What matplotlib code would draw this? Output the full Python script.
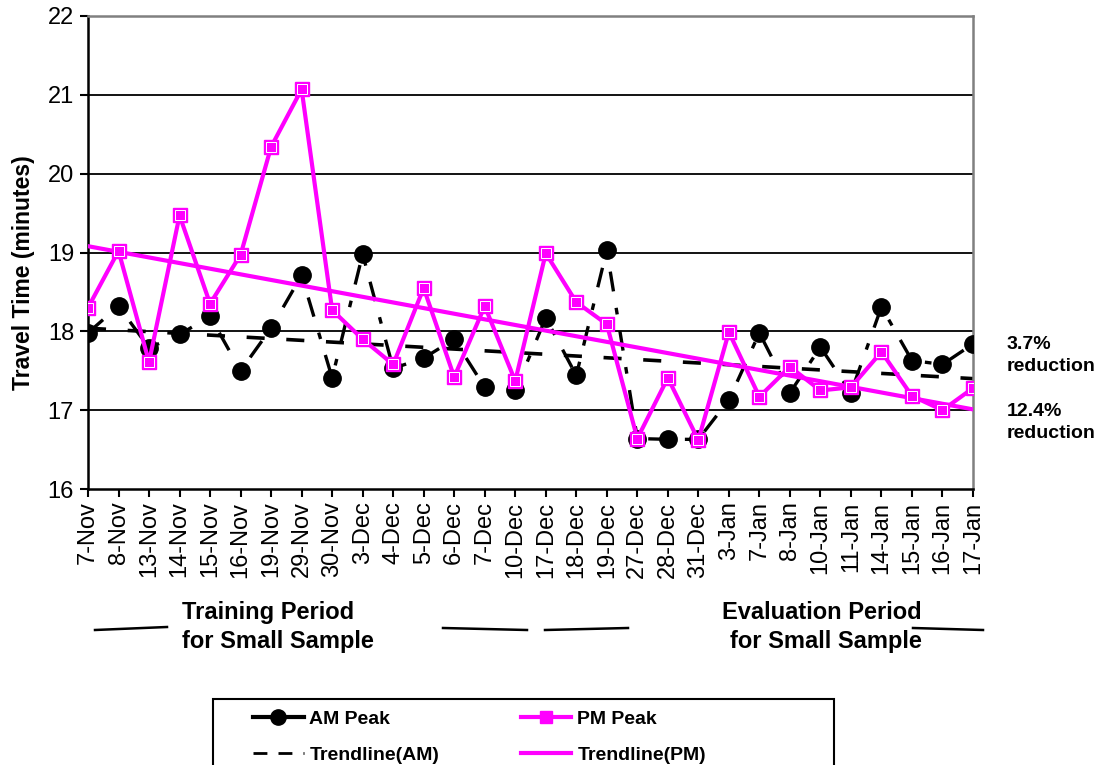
import numpy as np
import matplotlib
matplotlib.use("Agg")
import matplotlib.pyplot as plt
from matplotlib.lines import Line2D
from matplotlib.patches import Rectangle

plt.rcParams['font.family'] = ['Liberation Sans', 'DejaVu Sans']

# dates on the x axis
dates = ["7-Nov", "8-Nov", "13-Nov", "14-Nov", "15-Nov", "16-Nov", "19-Nov",
         "29-Nov", "30-Nov", "3-Dec", "4-Dec", "5-Dec", "6-Dec", "7-Dec",
         "10-Dec", "17-Dec", "18-Dec", "19-Dec", "27-Dec", "28-Dec", "31-Dec",
         "3-Jan", "7-Jan", "8-Jan", "10-Jan", "11-Jan", "14-Jan", "15-Jan",
         "16-Jan", "17-Jan"]

# travel times (minutes)
am_peak = [17.98, 18.32, 17.79, 17.96, 18.19, 17.50, 18.04, 18.71, 17.41, 18.98,
           17.53, 17.66, 17.90, 17.29, 17.25, 18.17, 17.44, 19.03, 16.64, 16.63,
           16.63, 17.13, 17.98, 17.22, 17.80, 17.22, 18.31, 17.63, 17.58, 17.84]
pm_peak = [18.30, 19.02, 17.61, 19.47, 18.35, 18.97, 20.34, 21.07, 18.27, 17.90,
           17.58, 18.55, 17.42, 18.32, 17.37, 18.99, 18.37, 18.09, 16.64, 17.41,
           16.62, 17.99, 17.17, 17.55, 17.25, 17.29, 17.74, 17.18, 17.00, 17.28]

# trendline end points (first date, last date)
am_trend = [18.04, 17.40]
pm_trend = [19.08, 17.01]

MAG = '#FF00FF'
W, H = 1102, 765

x = np.arange(len(dates))
x_ends = [x[0], x[-1]]

fig = plt.figure(figsize=(W / 100, H / 100), dpi=100)
ax = fig.add_axes([88 / W, 1 - 489 / H, (973 - 88) / W, (489 - 16) / H])

# gridlines
for v in [17, 18, 19, 20, 21]:
    ax.axhline(v, color='black', lw=1.3, zorder=1)

ax.plot(x_ends, am_trend, color='black', lw=2.6, ls=(0, (5, 6)), zorder=2)
ax.plot(x, am_peak, color='black', lw=2.4, ls=(0, (6, 5, 2, 5)), marker='o',
        ms=12.5, mfc='black', mec='black', zorder=3)
ax.plot(x_ends, pm_trend, color=MAG, lw=3, zorder=4)
ax.plot(x, pm_peak, color=MAG, lw=3, marker='s', ms=10, mfc=MAG, mec=MAG, zorder=5)
# white inner frame of the square markers
ax.plot(x, pm_peak, ls='none', marker='s', ms=7, mfc=MAG, mec='white', mew=0.7, zorder=6)

ax.set_xlim(0, len(dates) - 1)
ax.set_ylim(16, 22)
ax.set_yticks([16, 17, 18, 19, 20, 21, 22])
ax.set_xticks(x)
ax.set_xticklabels(dates, rotation=90, fontsize=17)
ax.tick_params(axis='y', labelsize=17, direction='out', length=6, width=1.5, pad=4)
ax.tick_params(axis='x', direction='out', length=6, width=1.5, pad=3)

ax.spines['left'].set_linewidth(1.8)
ax.spines['bottom'].set_linewidth(1.8)
ax.spines['top'].set_color('#808080')
ax.spines['top'].set_linewidth(1.8)
ax.spines['right'].set_color('#808080')
ax.spines['right'].set_linewidth(1.8)

ax.set_ylabel("Travel Time (minutes)", fontsize=16.5, fontweight='bold')
ax.yaxis.set_label_coords(-0.060, 0.457)

# reduction notes
fig.text(1007 / W, 1 - 336 / H, "3.7%\nreduction", fontsize=14, fontweight='bold',
         va='top', ha='left', linespacing=1.35)
fig.text(1007 / W, 1 - 403 / H, "12.4%\nreduction", fontsize=14, fontweight='bold',
         va='top', ha='left', linespacing=1.35)

# period labels
fig.text(182 / W, 1 - 627 / H, "Training Period\nfor Small Sample", fontsize=17,
         fontweight='bold', ha='left', va='center', multialignment='left', linespacing=1.35)
fig.text(922 / W, 1 - 627 / H, "Evaluation Period\nfor Small Sample", fontsize=17,
         fontweight='bold', ha='right', va='center', multialignment='right', linespacing=1.35)

# bracket strokes
for x0, x1, y0, y1 in [(95, 167, 630, 627), (443, 527, 628, 630),
                       (545, 628, 630, 628), (913, 983, 628, 630)]:
    fig.add_artist(Line2D([x0 / W, x1 / W], [1 - y0 / H, 1 - y1 / H],
                          color='black', lw=1.8))

# legend box (runs off the bottom edge)
fig.add_artist(Rectangle((213 / W, -0.05), (834 - 213) / W, 0.05 + 1 - 699 / H,
                         transform=fig.transFigure, fill=False, ec='black', lw=1.5))

handles = [
    Line2D([], [], color='black', lw=3, marker='o', ms=11),
    Line2D([], [], color='black', lw=2, ls=(0, (5, 4))),
    Line2D([], [], color=MAG, lw=3, marker='s', ms=9),
    Line2D([], [], color=MAG, lw=3),
]
labels = ["AM Peak", "Trendline(AM)", "PM Peak", "Trendline(PM)"]
leg = fig.legend(handles, labels, ncol=2, loc='upper left',
                 bbox_to_anchor=(253 / W, 1 - 710 / H), borderaxespad=0,
                 frameon=False, prop={'size': 14, 'weight': 'bold'},
                 handlelength=2.6, handletextpad=0.3, labelspacing=0.95,
                 borderpad=0, columnspacing=4.2)

fig.savefig("out.png", dpi=100)
